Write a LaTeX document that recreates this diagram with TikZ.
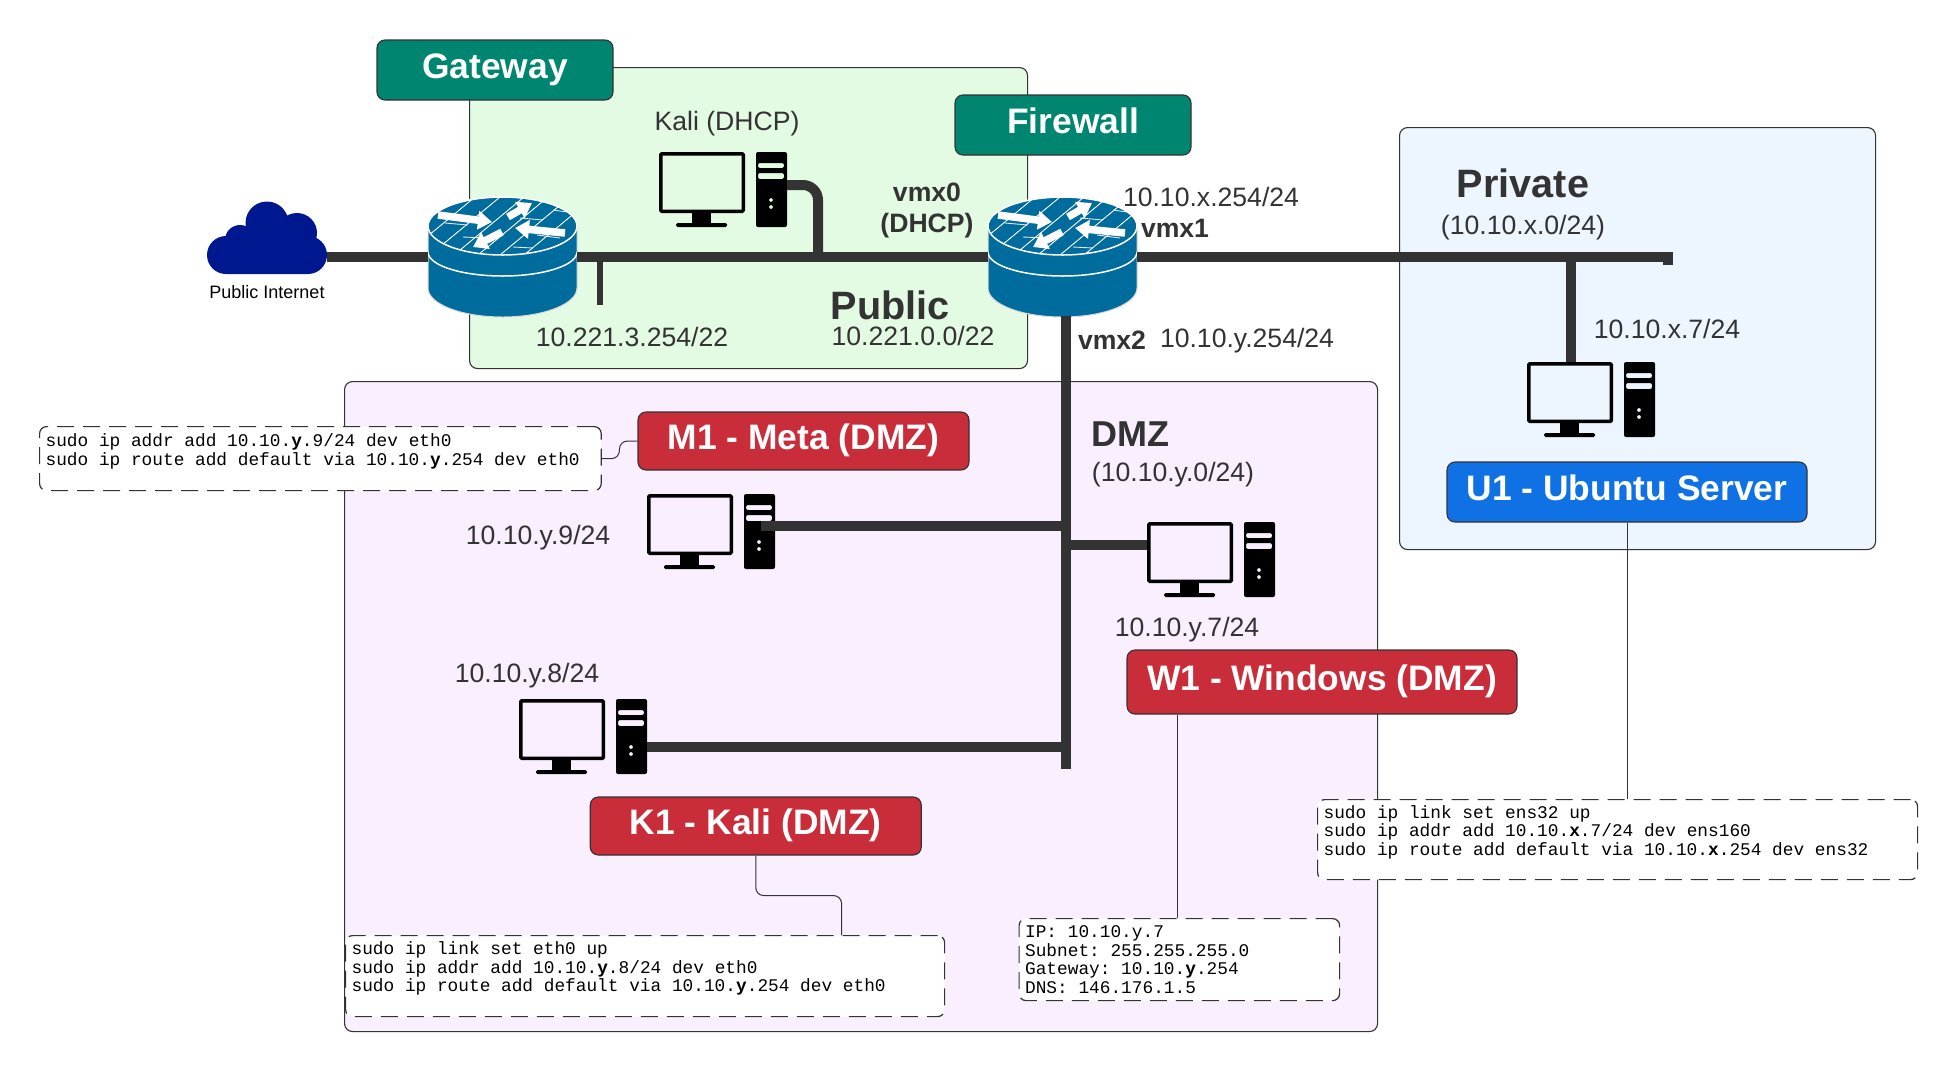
\documentclass[tikz,border=0pt]{standalone}
\usepackage{fontspec}
\setmainfont{Liberation Sans}
\setmonofont{Liberation Mono}
\usetikzlibrary{arrows.meta,positioning,calc}
\definecolor{inkgrey}{RGB}{51,51,51}
\definecolor{publicgreen}{RGB}{227,250,227}
\definecolor{privateblue}{RGB}{237,245,255}
\definecolor{dmzviolet}{RGB}{250,239,255}
\definecolor{tealtag}{RGB}{0,133,112}
\definecolor{redtag}{RGB}{201,45,57}
\definecolor{bluetag}{RGB}{16,113,229}
\definecolor{cloudblue}{RGB}{0,24,143}
\definecolor{routerblue}{RGB}{0,107,157}
\tikzset{
  zone/.style    = {draw=inkgrey,line width=1.1pt,rounded corners=8pt,anchor=north west,inner sep=0pt},
  tag/.style     = {draw=inkgrey,line width=1.1pt,rounded corners=8pt,inner sep=0pt,text=white,
                    font=\fontsize{35.4}{36}\selectfont\bfseries,text height=26pt,text depth=10pt},
  cmdbox/.style  = {draw=inkgrey,fill=white,line width=1.2pt,rounded corners=7pt,anchor=north west,
                    dash pattern=on 17pt off 9pt,inner xsep=6pt,inner ysep=0pt,align=flush left,
                    font=\fontsize{17.8}{18.7}\selectfont\ttfamily},
  iptext/.style  = {text=inkgrey,font=\fontsize{26.6}{27}\selectfont,inner sep=0pt,
                    text height=23pt,text depth=4pt},
  boldtext/.style= {iptext,font=\fontsize{26.6}{27}\selectfont\bfseries},
  zonetext/.style= {iptext,font=\fontsize{39.6}{40}\selectfont\bfseries,text height=33pt,text depth=6pt},
  wire/.style    = {draw=inkgrey,line width=10pt},
  leader/.style  = {draw=inkgrey,line width=1pt,rounded corners=8pt},
  pc/.pic = {
    \draw[line width=3.5pt,rounded corners=1pt] (1.75,1.75) rectangle (84.25,59.25);
    \fill (33,61) rectangle (52,71);
    \fill[rounded corners=1.5pt] (17,71) rectangle (68,75);
    \fill[even odd rule,rounded corners=2pt] (97,0) rectangle (128,75)
      (99,11) rectangle (125,16) (99,21) rectangle (125,27)
      (112,48) circle (2pt) (112,55) circle (2pt);
  },
  router/.pic = {
    \fill[routerblue,draw=white!85!black,line width=1pt] (0,29) -- (0,91)
      arc[start angle=180,end angle=360,x radius=74.5pt,y radius=29pt]
      -- (149,29) arc[start angle=0,end angle=180,x radius=74.5pt,y radius=29pt] -- cycle;
    \draw[white,line width=1.5pt] (0,55)
      arc[start angle=180,end angle=360,x radius=74.5pt,y radius=24pt];
    \begin{scope}
      \clip (74.5,29) ellipse [x radius=74.5pt,y radius=29pt];
      \foreach \x in {12,37,61,85,107,131}
        \draw[white,line width=.9pt] (\x-35,58) -- (\x+35,0);
      \foreach \xa/\ya/\xb/\yb in {17/26/40/28,35/40/59/41,85/50/105/51,92/21/115/23,109/38/132/41,125/13/139/15}
        \draw[white!85!routerblue,line width=.9pt] (\xa,\ya) -- (\xb,\yb);
    \end{scope}
    \draw[white,line width=1.5pt] (74.5,29) ellipse [x radius=74.5pt,y radius=29pt];
    \foreach \xa/\ya/\xb/\yb in {10/18/64/25,80/20/104/6,137/36/87/31,74/35/45/50}
      \draw[white,line width=7.5pt,-{Triangle[width=18pt,length=14pt]}] (\xa,\ya) -- (\xb,\yb);
    \coordinate (-west) at (0,60);
    \coordinate (-east) at (149,60);
    \coordinate (-south) at (78,119);
  },
}
\begin{document}
\begin{tikzpicture}[x=1pt,y=-1pt]
  \useasboundingbox (0,0) rectangle (1958,1072);

  \node[zone,fill=publicgreen,minimum width=558pt,minimum height=301pt] (publiczone) at (469,67) {};
  \node[zone,fill=privateblue,minimum width=476pt,minimum height=422pt] (privatezone) at (1399,127) {};
  \node[zone,fill=dmzviolet,minimum width=1033pt,minimum height=650pt] (dmzzone) at (344,381) {};

  \node[tag,fill=tealtag,minimum width=236pt,minimum height=60pt] (gwtag) at (495,70) {Gateway};
  \node[tag,fill=tealtag,minimum width=236pt,minimum height=60pt] (fwtag) at (1073,125) {Firewall};
  \node[tag,fill=redtag,minimum width=331pt,minimum height=58pt] (m1box) at (803.5,441) {M1 - Meta (DMZ)};
  \node[tag,fill=redtag,minimum width=390pt,minimum height=64pt] (w1box) at (1322,682) {W1 - Windows (DMZ)};
  \node[tag,fill=redtag,minimum width=331pt,minimum height=58pt] (k1box) at (755.75,826) {K1 - Kali (DMZ)};
  \node[tag,fill=bluetag,minimum width=360pt,minimum height=60pt] (u1box) at (1627,492) {U1 - Ubuntu Server};

  \node[cmdbox,text width=549.6pt,minimum height=64pt] (m1cmd) at (39,426)
    {sudo ip addr add 10.10.\textbf{y}.9/24 dev eth0\\
     sudo ip route add default via 10.10.\textbf{y}.254 dev eth0\\~};
  \node[cmdbox,text width=587pt,minimum height=81pt] (k1cmd) at (345,935)
    {sudo ip link set eth0 up\\
     sudo ip addr add 10.10.\textbf{y}.8/24 dev eth0\\
     sudo ip route add default via 10.10.\textbf{y}.254 dev eth0\\~};
  \node[cmdbox,text width=308.5pt,minimum height=82pt] (w1cmd) at (1018.5,918)
    {IP: 10.10.y.7\\
     Subnet: 255.255.255.0\\
     Gateway: 10.10.\textbf{y}.254\\
     DNS: 146.176.1.5};
  \node[cmdbox,text width=588pt,minimum height=80pt] (u1cmd) at (1317,799)
    {sudo ip link set ens32 up\\
     sudo ip addr add 10.10.\textbf{x}.7/24 dev ens160\\
     sudo ip route add default via 10.10.\textbf{x}.254 dev ens32\\~};

  \draw[leader] (m1box.west) -- ++(-18,0) |- (m1cmd.east);
  \draw[leader] (k1box.south) -- ++(0,40) -| ([xshift=196.5pt]k1cmd.north);
  \draw[leader] ([xshift=-2pt]w1cmd.north) -- ([xshift=-2pt]w1cmd.north |- w1box.south);
  \draw[leader] (u1box.south) -- (u1box.south |- u1cmd.north);

  \foreach \name/\x/\y/\lab in {
    kalitext/727/121/{Kali (DHCP)},
    gwip/632/337/{10.221.3.254/22},
    publicnet/913/336/{10.221.0.0/22},
    fwxip/1211/197/{10.10.x.254/24},
    fwyip/1247/338/{10.10.y.254/24},
    privatenet/1523/225/{(10.10.x.0/24)},
    u1ip/1667/329/{10.10.x.7/24},
    dmznet/1173/472/{(10.10.y.0/24)},
    m1ip/538/535/{10.10.y.9/24},
    w1ip/1187/627/{10.10.y.7/24},
    k1ip/527/673/{10.10.y.8/24}}{
    \node[iptext] (\name) at (\x,\y) {\lab};
  }
  \foreach \name/\x/\y/\lab in {
    vmxzero/927/192/{vmx0},
    vmxdhcp/927/223/{(DHCP)},
    vmxone/1175/228/{vmx1},
    vmxtwo/1112/340/{vmx2}}{
    \node[boldtext] (\name) at (\x,\y) {\lab};
  }
  \node[zonetext] (publictext) at (890,306) {Public};
  \node[zonetext] (privatetext) at (1523,184) {Private};
  \node[zonetext,font=\fontsize{36}{36}\selectfont\bfseries] (dmztext) at (1130,433) {DMZ};
  \node[text=black,font=\fontsize{18}{18}\selectfont,inner sep=0pt] (inettext) at (267,292) {Public Internet};

  \fill[cloudblue] (226,255) circle (19pt) (240,240) circle (15pt) (267,223) circle (21.5pt)
    (297,233) circle (20pt) (308,255) circle (19pt) (226,235) rectangle (308,274);
  \coordinate (inet) at (327,257);

  \coordinate (kaliport) at (787,185);
  \coordinate (m1port) at (761,526);
  \coordinate (w1port) at (1147,545);
  \coordinate (k1port) at (647,747);
  \coordinate (u1port) at (1571,362);
  \coordinate (dmzend) at (1066,769);
  \coordinate (privend) at (1668,265);

  \pic (gw) at (428,197) {router};
  \pic (fw) at (988,197) {router};
  \pic (kali) at (659,152) {pc};
  \pic (m1) at (647,494) {pc};
  \pic (w1) at (1147,522) {pc};
  \pic (k1) at (519,699) {pc};
  \pic (u1) at (1527,362) {pc};

  \draw[wire] (inet) -- (gw-west);
  \draw[wire] (gw-east) -- (fw-west);
  \draw[wire] (fw-east) -- (fw-east -| privend) -- (privend);
  \draw[wire] (fw-south) -- (dmzend);
  \draw[wire,rounded corners=15pt] (kaliport) -| (818,257);
  \draw[wire] (u1port) -- (u1port |- fw-east);
  \draw[wire] (m1port) -- (m1port -| dmzend);
  \draw[wire] (w1port) -- (w1port -| dmzend);
  \draw[wire] (k1port) -- (k1port -| dmzend);
  \draw[wire,line width=6pt] (600,257) -- (600,305);
\end{tikzpicture}
\end{document}
